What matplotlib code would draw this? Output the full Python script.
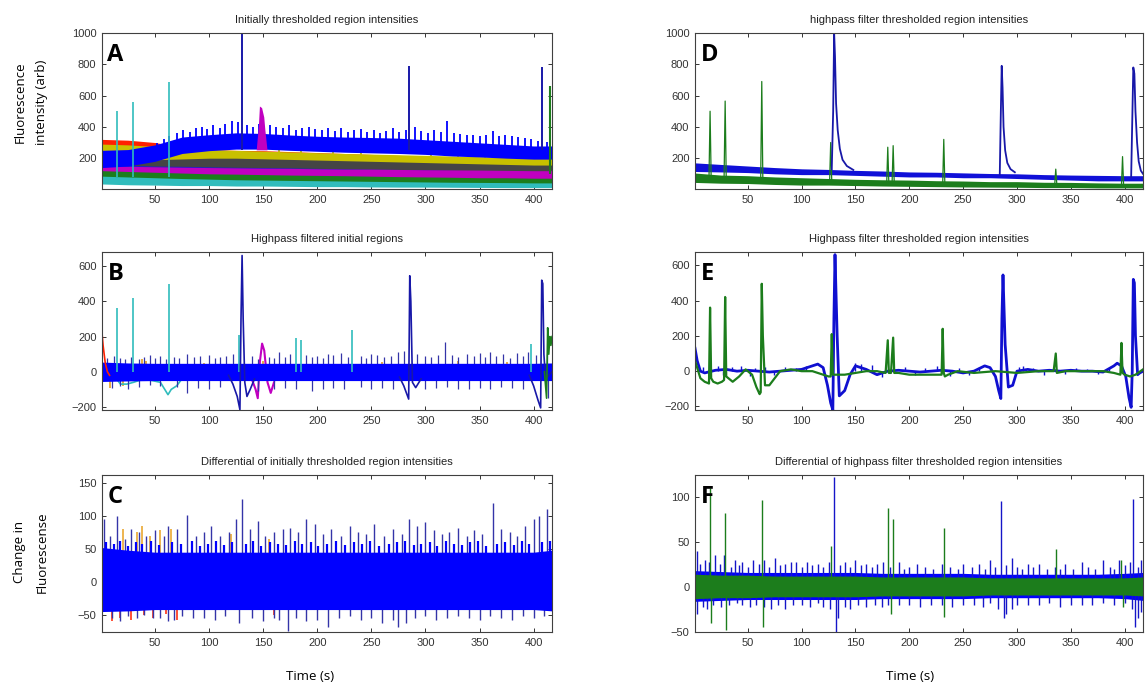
import matplotlib
matplotlib.use("Agg")
import matplotlib.pyplot as plt

W, H = 1147, 691
fig = plt.figure(figsize=(W/100, H/100), dpi=100)

# ---------------- DATA ----------------
knots_t = [1, 25, 50, 75, 100, 125, 150, 175, 200, 225, 250, 275, 300, 325, 350, 375, 400, 417]

# Panel A bands (lower / upper envelope of each region trace)
A_cyan_lo = [35, 30, 28, 25, 25, 22, 22, 20, 18, 18, 16, 15, 15, 14, 13, 12, 12, 12]
A_cyan_hi = [85, 80, 75, 70, 66, 62, 60, 58, 56, 54, 52, 50, 48, 46, 45, 44, 42, 42]
A_green_lo = [55, 55, 50, 48, 45, 42, 40, 38, 35, 35, 32, 30, 30, 28, 25, 25, 22, 22]
A_green_hi = [120, 115, 110, 105, 100, 98, 95, 92, 90, 88, 85, 82, 80, 78, 75, 75, 72, 72]
A_mag_lo = [80, 80, 78, 76, 75, 72, 70, 70, 68, 66, 65, 64, 62, 62, 60, 60, 60, 60]
A_mag_hi = [150, 148, 145, 142, 140, 138, 136, 135, 132, 130, 130, 128, 126, 125, 124, 122, 120, 120]
A_blue2_lo = [85, 85, 82, 80, 80, 78, 76, 75, 72, 70, 70, 68, 66, 64, 62, 60, 60, 60]
A_blue2_hi = [160, 155, 150, 148, 145, 142, 140, 138, 135, 132, 130, 128, 125, 122, 120, 118, 115, 115]
A_gray_lo = [110, 110, 110, 120, 125, 125, 122, 120, 118, 115, 112, 110, 108, 105, 102, 100, 98, 98]
A_gray_hi = [200, 195, 190, 195, 200, 200, 196, 192, 188, 184, 180, 176, 172, 168, 164, 160, 156, 156]
A_yel_lo = [175, 175, 165, 160, 155, 150, 146, 142, 138, 134, 130, 126, 122, 118, 114, 110, 108, 108]
A_yel_hi = [290, 285, 275, 265, 255, 250, 245, 240, 235, 230, 226, 222, 218, 214, 210, 205, 200, 200]
A_red_lo = [220, 220, 205, 185, 175, 170, 165, 160, 150, 145, 140, 135, 130, 125, 120, 115, 110, 110]
A_red_hi = [320, 315, 300, 270, 255, 250, 248, 242, 236, 230, 224, 218, 212, 206, 200, 195, 190, 190]
A_blue_lo = [140, 150, 180, 230, 248, 258, 258, 250, 244, 238, 234, 230, 224, 214, 208, 200, 194, 194]
A_blue_hi = [250, 255, 285, 335, 350, 362, 358, 348, 340, 335, 332, 328, 318, 308, 298, 288, 278, 278]
A_blue_noise_t = [52, 58, 63, 70, 76, 82, 88, 93, 98, 104, 110, 115, 121, 127, 135, 141, 146, 156, 162, 168, 174, 180, 186, 192, 198, 204, 210, 216, 222, 228, 234, 240, 246, 252, 258, 264, 270, 276, 282, 290, 296, 302, 308, 314, 320, 326, 332, 338, 344, 350, 356, 362, 368, 374, 380, 386, 392, 398, 404, 412]
A_blue_noise_y = [300, 320, 340, 360, 380, 370, 390, 400, 385, 410, 395, 420, 440, 430, 410, 400, 420, 415, 400, 390, 410, 380, 395, 400, 385, 380, 390, 375, 395, 370, 380, 385, 365, 380, 360, 375, 390, 370, 380, 400, 375, 360, 380, 370, 440, 360, 355, 350, 345, 340, 350, 375, 340, 345, 340, 335, 330, 320, 310, 305]
A_yel_noise_t = [80, 95, 110, 165, 185, 215, 240, 305, 330, 355, 380, 400]
A_yel_noise_y = [280, 270, 265, 250, 255, 245, 240, 230, 228, 222, 218, 212]
A_cyan_spk_t = [15, 30, 63]
A_cyan_spk_y = [500, 560, 690]
A_navy_spk_t = [130, 285, 408]
A_navy_spk_y = [1000, 790, 780]
A_mag_bump_t = [144, 146, 147, 149, 151, 152, 154]
A_mag_bump_y = [250, 400, 530, 520, 460, 380, 250]
A_green_spk_t = [415]
A_green_spk_y = [660]

# Panel B
B_blue_lo = [-55, -52, -50, -50, -50, -50, -50, -50, -50, -50, -50, -50, -50, -50, -50, -50, -50, -50]
B_blue_hi = [55, 50, 48, 48, 48, 48, 48, 48, 48, 48, 48, 48, 48, 48, 48, 48, 48, 50]
B_start_t = [1, 2, 3, 4, 6, 8]
B_start_y = [220, 150, 100, 50, 0, -20]
B_up_t = [6, 12, 18, 22, 28, 35, 40, 45, 50, 55, 60, 68, 72, 80, 86, 92, 100, 105, 110, 116, 122, 140, 145, 155, 160, 165, 170, 175, 190, 195, 200, 205, 210, 215, 222, 228, 240, 245, 250, 255, 262, 268, 275, 280, 292, 300, 305, 312, 318, 325, 330, 338, 345, 350, 355, 360, 365, 372, 378, 385, 390, 395, 402, 412]
B_up_y = [80, 90, 80, 70, 85, 75, 85, 95, 80, 90, 75, 85, 80, 100, 85, 90, 95, 80, 85, 90, 100, 90, 75, 85, 80, 110, 85, 100, 95, 85, 90, 80, 100, 95, 105, 85, 90, 80, 100, 95, 85, 90, 110, 120, 100, 90, 85, 95, 170, 95, 85, 100, 90, 105, 85, 115, 90, 100, 80, 105, 90, 110, 95, 100]
B_dn_t = [10, 18, 25, 35, 45, 55, 70, 80, 90, 100, 110, 145, 160, 170, 180, 195, 205, 215, 225, 240, 250, 260, 270, 300, 310, 320, 330, 340, 350, 360, 370, 380, 390, 413]
B_dn_y = [-90, -80, -95, -85, -75, -80, -85, -120, -90, -95, -85, -110, -100, -90, -95, -110, -95, -90, -100, -85, -95, -90, -100, -95, -90, -85, -95, -100, -90, -95, -85, -90, -95, -150]
B_warm_t = [8, 20, 38, 42, 95, 150, 260, 330, 375]
B_warm_y = [-90, -80, 70, 60, 50, 60, 55, 60, 55]
B_cyan_spk_t = [15, 30, 63, 128, 180, 185, 232, 398]
B_cyan_spk_y = [360, 420, 500, 210, 190, 180, 240, 160]
B_cyan_dip_t = [12, 18, 24, 30, 40, 55, 60, 62, 65, 70, 75]
B_cyan_dip_y = [-20, -70, -70, -60, -40, -60, -110, -130, -100, -80, -40]
B_navy1_t = [118, 122, 126, 128.5, 129.5, 130.5, 131.5, 133, 135, 138, 142]
B_navy1_y = [-20, -70, -140, -215, 300, 660, 300, -60, -140, -100, -40]
B_navy2_t = [276, 280, 283, 284.5, 285.5, 286.5, 288, 291, 296]
B_navy2_y = [-30, -80, -130, -155, 545, 400, -60, -90, -40]
B_navy3_t = [396, 400, 404, 406.5, 407.5, 408.5, 409.5, 411, 414, 417]
B_navy3_y = [-20, -80, -160, -205, 520, 500, 100, -40, -20, 0]
B_mag_t = [140, 143, 145, 147, 149, 151, 154, 157, 160]
B_mag_y = [-50, -100, -150, 60, 160, 120, -60, -120, -60]
B_green_t = [410, 412, 413, 414, 415, 416, 417]
B_green_y = [0, -150, 250, 100, 200, 150, 200]

# Panel C
C_blue_lo = [-45, -44, -42, -42, -42, -42, -42, -42, -42, -42, -42, -42, -42, -42, -42, -42, -42, -44]
C_blue_hi = [52, 48, 45, 45, 45, 45, 45, 45, 45, 45, 45, 45, 45, 45, 45, 45, 45, 48]
C_up_t = [3, 8, 15, 22, 28, 35, 42, 50, 58, 62, 70, 80, 88, 95, 102, 110, 118, 125, 130, 138, 145, 152, 160, 168, 175, 182, 190, 198, 205, 213, 222, 230, 238, 245, 252, 262, 270, 278, 285, 292, 300, 308, 315, 322, 330, 338, 345, 352, 362, 370, 378, 385, 392, 400, 405, 412]
C_up_y = [95, 70, 100, 65, 80, 75, 70, 78, 70, 85, 80, 102, 70, 75, 85, 70, 75, 95, 125, 80, 92, 70, 75, 80, 82, 75, 95, 88, 72, 80, 70, 85, 75, 72, 88, 70, 80, 72, 95, 85, 90, 78, 72, 75, 82, 70, 78, 72, 120, 80, 75, 70, 85, 95, 100, 110]
C_up2_t = [5, 12, 18, 25, 32, 38, 46, 54, 66, 74, 84, 92, 99, 106, 114, 121, 134, 141, 148, 156, 164, 171, 179, 186, 194, 201, 209, 217, 226, 234, 241, 249, 257, 266, 274, 281, 289, 296, 304, 311, 319, 326, 334, 341, 349, 356, 366, 374, 382, 389, 396, 408, 415]
C_up2_y = [60, 58, 62, 55, 60, 58, 62, 56, 60, 58, 62, 55, 58, 62, 56, 60, 58, 62, 55, 60, 58, 56, 62, 58, 60, 55, 58, 62, 56, 60, 58, 62, 55, 58, 60, 62, 56, 58, 60, 55, 62, 58, 56, 60, 62, 55, 58, 60, 56, 62, 58, 60, 62]
C_dn_t = [10, 18, 25, 33, 40, 48, 55, 62, 68, 75, 85, 95, 105, 115, 128, 140, 150, 160, 165, 173, 180, 190, 200, 210, 220, 230, 240, 250, 260, 270, 275, 282, 290, 300, 310, 320, 330, 340, 350, 360, 370, 380, 390, 400, 410]
C_dn_y = [-55, -60, -52, -55, -50, -55, -55, -60, -58, -52, -55, -55, -58, -52, -62, -55, -60, -55, -58, -75, -55, -60, -58, -68, -55, -52, -58, -55, -62, -58, -68, -62, -55, -52, -58, -55, -52, -55, -58, -52, -55, -58, -52, -55, -52]
C_warm_t = [10, 18, 28, 40, 48, 60, 70, 160]
C_warm_y = [-60, -55, -58, -50, -55, -48, -58, -50]
C_warm_up_t = [20, 33, 38, 45, 55, 65, 120, 155]
C_warm_up_y = [80, 75, 85, 70, 78, 80, 72, 65]

# Panel D
D_blue_lo = [115, 112, 108, 100, 95, 95, 90, 85, 80, 80, 75, 75, 70, 65, 60, 55, 55, 55]
D_blue_hi = [170, 160, 150, 140, 132, 128, 122, 118, 112, 110, 106, 102, 100, 95, 92, 90, 88, 88]
D_green_lo = [45, 40, 38, 32, 28, 28, 25, 22, 20, 18, 16, 15, 14, 12, 12, 10, 10, 10]
D_green_hi = [105, 92, 88, 80, 75, 70, 65, 62, 60, 56, 54, 50, 50, 46, 45, 42, 40, 40]
D_blue_s1_t = [128, 129.3, 130.2, 131, 132, 133.5, 135.5, 138, 142, 148]
D_blue_s1_y = [130, 500, 1000, 850, 550, 380, 260, 190, 150, 125]
D_blue_s2_t = [284, 285, 285.8, 286.6, 287.5, 289, 291, 294, 298]
D_blue_s2_y = [95, 500, 790, 650, 400, 250, 170, 130, 110]
D_blue_s3_t = [406, 407.2, 408, 409, 410, 411.5, 413, 415, 417]
D_blue_s3_y = [80, 500, 780, 740, 500, 300, 180, 120, 100]
D_green_spk_t = [15, 29, 63, 127, 180, 185, 232, 336, 398]
D_green_spk_y = [500, 565, 690, 300, 270, 280, 320, 130, 210]
D_green_base = [75, 70, 60, 50, 40, 40, 35, 30, 25]

# Panel E
E_blue_t = [1, 3, 6, 10, 20, 30, 40, 50, 60, 70, 80, 90, 100, 110, 115, 120, 124, 127, 129, 130, 131, 133, 135, 140, 145, 150, 160, 170, 180, 190, 200, 210, 220, 230, 240, 250, 260, 270, 275, 280, 283, 285, 286, 287, 289, 292, 296, 300, 310, 320, 330, 340, 350, 360, 370, 380, 390, 393, 397, 401, 404, 406, 407, 408, 409, 410, 412, 414, 417]
E_blue_y = [130, 60, 0, -10, 5, 10, 0, 5, 0, -5, 0, 5, 10, 30, 40, 20, -80, -180, -220, 300, 660, 200, -140, -110, -20, 30, 10, -20, 0, 5, 0, -5, 0, 5, 0, -10, 0, 30, 20, -30, -110, -155, 300, 545, 150, -90, -80, 0, 10, 0, 5, 0, 5, 0, 0, -5, 30, 45, 30, -30, -150, -205, 0, 520, 500, 200, -20, -10, 0]
E_green_t = [1, 3, 6, 10, 14, 15, 16, 18, 22, 26, 28, 29, 30, 32, 36, 42, 48, 54, 58, 61, 62, 63, 64, 66, 70, 75, 80, 90, 100, 110, 120, 125, 127, 128, 129, 132, 140, 150, 160, 170, 178, 180, 181, 183, 185, 186, 190, 200, 210, 220, 230, 231, 232, 233, 236, 245, 260, 280, 300, 320, 334, 336, 337, 345, 360, 380, 390, 396, 397, 398, 400, 405, 410, 417]
E_green_y = [60, 20, -40, -60, -70, 360, -40, -60, -70, -60, -50, 420, -30, -40, -60, -30, 10, -20, -90, -130, -120, 495, 200, -80, -80, -40, 0, 10, 0, 0, -20, -30, -30, 210, -20, -20, -20, -10, 0, 0, -10, 175, -10, -10, 190, -10, -10, -20, -20, -20, -20, 240, -10, -30, -20, 0, -10, 0, -10, 0, 0, 100, -10, 0, 0, 0, -10, -20, 160, -10, -20, -30, -20, 10]
E_bnoise_t = [8, 14, 22, 27, 35, 44, 52, 57, 66, 74, 85, 95, 104, 150, 155, 165, 175, 196, 205, 215, 226, 238, 246, 255, 265, 302, 306, 315, 325, 335, 345, 355, 365, 375, 385]
E_bnoise_y = [25, -25, 30, -20, 25, 30, -25, 20, 25, -20, 25, 20, 30, 45, 40, 35, -35, 25, -20, 20, 30, -25, 20, -20, 25, 25, 30, 20, -20, 15, -15, 20, 15, -15, 20]

# Panel F
F_blue_lo = [-16, -15, -14, -14, -14, -14, -14, -13, -13, -13, -13, -12, -12, -12, -12, -12, -13, -15]
F_blue_hi = [18, 17, 16, 16, 16, 16, 16, 15, 15, 15, 15, 14, 14, 14, 14, 14, 15, 16]
F_green_lo = [-13, -12, -12, -11, -11, -11, -11, -10, -10, -10, -10, -9, -9, -9, -9, -9, -9, -10]
F_green_hi = [14, 13, 13, 12, 12, 12, 12, 11, 11, 11, 11, 10, 10, 10, 10, 10, 10, 11]
F_bup_t = [3, 6, 10, 14, 20, 24, 28, 34, 38, 42, 45, 50, 55, 60, 65, 70, 75, 80, 85, 90, 95, 100, 105, 110, 115, 120, 125, 130, 136, 140, 145, 150, 155, 160, 165, 170, 176, 182, 190, 195, 200, 207, 215, 222, 230, 238, 245, 250, 258, 265, 270, 275, 280, 285, 290, 295, 300, 305, 310, 315, 320, 328, 335, 340, 345, 352, 360, 366, 372, 380, 386, 390, 395, 400, 405, 408, 412, 415]
F_bup_y = [40, 25, 30, 28, 35, 25, 35, 22, 30, 24, 28, 22, 30, 25, 30, 22, 32, 24, 25, 28, 28, 22, 28, 24, 25, 22, 28, 122, 24, 28, 22, 30, 24, 25, 22, 25, 28, 22, 28, 20, 22, 25, 22, 20, 25, 22, 20, 25, 22, 25, 20, 30, 22, 95, 24, 32, 22, 20, 25, 22, 25, 20, 22, 20, 25, 20, 28, 22, 20, 30, 22, 20, 30, 24, 28, 97, 22, 30]
F_bdn_t = [3, 8, 12, 18, 25, 33, 40, 45, 52, 58, 65, 72, 78, 85, 92, 100, 108, 115, 120, 126, 132, 134, 140, 145, 152, 160, 168, 175, 180, 190, 200, 210, 220, 230, 240, 250, 260, 268, 275, 282, 288, 290, 295, 300, 310, 320, 330, 340, 350, 360, 370, 380, 390, 400, 407, 410, 412, 415]
F_bdn_y = [-30, -22, -25, -20, -22, -20, -18, -20, -22, -20, -22, -24, -20, -25, -20, -20, -22, -18, -22, -25, -50, -35, -22, -25, -20, -22, -20, -22, -20, -20, -20, -22, -20, -20, -22, -20, -20, -22, -18, -25, -35, -30, -25, -20, -20, -20, -18, -22, -20, -20, -20, -18, -20, -18, -25, -45, -35, -28]
F_gup_t = [15, 29, 63, 127, 180, 185, 232, 336, 397]
F_gup_y = [110, 82, 96, 45, 87, 75, 65, 42, 30]
F_gdn_t = [16, 30, 64, 183, 232, 398]
F_gdn_y = [-40, -48, -45, -30, -33, -22]

x_ticks = [50, 100, 150, 200, 250, 300, 350, 400]

# ---------------- STYLE ----------------
BLUE = '#0000ff'
NAVY = '#1818a8'
SLATE = '#3434a8'
GREEN = '#1c7d1c'
CYAN = '#30bcbc'
MAG = '#c000c0'
YEL = '#c8c000'
GRAY = '#454545'
RED = '#ff2000'
ORANGE = '#e8a020'


def make_ax(l, t, r, b):
    ax = fig.add_axes([l/W, 1 - b/H, (r-l)/W, (b-t)/H])
    ax.set_xlim(1, 417)
    ax.set_xticks(x_ticks)
    ax.tick_params(direction='in', top=True, right=True, length=3, width=0.7,
                   colors='#333333', labelsize=8, pad=4)
    for s in ax.spines.values():
        s.set_color('#404040')
        s.set_linewidth(0.8)
        s.set_zorder(20)
    return ax


def finish(ax):
    for lab in ax.get_xticklabels() + ax.get_yticklabels():
        lab.set_fontfamily('Liberation Sans')


def title(ax, s):
    ax.set_title(s, fontfamily='Liberation Sans', fontsize=8, color='#222222', pad=7)


def letter(ax, s):
    ax.text(0.012, 0.86, s, transform=ax.transAxes, fontfamily='Open Sans',
            fontweight='bold', fontsize=17, va='center', ha='left', color='black', zorder=30)


def band(ax, lo, hi, c, z=2):
    ax.fill_between(knots_t, lo, hi, color=c, lw=0, zorder=z)


def spikes(ax, t, y, base, c, lw=0.9, z=5):
    ax.vlines(t, base, y, colors=c, lw=lw, zorder=z)


# ---------------- PANEL A ----------------
axA = make_ax(102, 33, 552, 189)
axA.set_ylim(3, 1000)
axA.set_yticks([200, 400, 600, 800, 1000])
band(axA, A_red_lo, A_red_hi, RED, z=2)
band(axA, A_yel_lo, A_yel_hi, YEL, z=2.1)
spikes(axA, A_yel_noise_t, A_yel_noise_y, 150, YEL, lw=1.3, z=2.15)
band(axA, A_gray_lo, A_gray_hi, GRAY, z=2.2)
band(axA, A_blue2_lo, A_blue2_hi, '#2020c8', z=2.3)
band(axA, A_mag_lo, A_mag_hi, MAG, z=2.4)
band(axA, A_green_lo, A_green_hi, GREEN, z=2.5)
band(axA, A_cyan_lo, A_cyan_hi, CYAN, z=2.6)
spikes(axA, A_blue_noise_t, A_blue_noise_y, 260, BLUE, lw=1.3, z=2.8)
band(axA, A_blue_lo, A_blue_hi, BLUE, z=3)
spikes(axA, A_cyan_spk_t, A_cyan_spk_y, 80, CYAN, lw=1.2)
spikes(axA, A_navy_spk_t, A_navy_spk_y, 250, NAVY, lw=1.4)
axA.fill(A_mag_bump_t, A_mag_bump_y, color=MAG, lw=0, zorder=5)
spikes(axA, A_green_spk_t, A_green_spk_y, 100, GREEN, lw=1.5)
title(axA, 'Initially thresholded region intensities')
letter(axA, 'A')
finish(axA)

# ---------------- PANEL B ----------------
axB = make_ax(102, 252, 552, 410)
axB.set_ylim(-217, 680)
axB.set_yticks([-200, 0, 200, 400, 600])
spikes(axB, B_warm_t, B_warm_y, 0, ORANGE, lw=1.2, z=2)
axB.plot(B_cyan_dip_t, B_cyan_dip_y, color=CYAN, lw=1.2, zorder=2)
axB.plot(B_mag_t, B_mag_y, color=MAG, lw=1.5, zorder=3)
spikes(axB, B_up_t, B_up_y, 0, SLATE, lw=0.9, z=3)
spikes(axB, B_dn_t, B_dn_y, 0, SLATE, lw=0.9, z=3)
band(axB, B_blue_lo, B_blue_hi, BLUE, z=4)
axB.plot(B_start_t, B_start_y, color=RED, lw=1.2, zorder=4)
spikes(axB, B_cyan_spk_t, B_cyan_spk_y, 0, CYAN, lw=1.2)
axB.plot(B_navy1_t, B_navy1_y, color=NAVY, lw=1.2, zorder=6)
axB.plot(B_navy2_t, B_navy2_y, color=NAVY, lw=1.2, zorder=6)
axB.plot(B_navy3_t, B_navy3_y, color=NAVY, lw=1.2, zorder=6)
axB.plot(B_green_t, B_green_y, color=GREEN, lw=1.2, zorder=6)
title(axB, 'Highpass filtered initial regions')
letter(axB, 'B')
finish(axB)

# ---------------- PANEL C ----------------
axC = make_ax(102, 475, 552, 632)
axC.set_ylim(-76, 162)
axC.set_yticks([-50, 0, 50, 100, 150])
spikes(axC, C_warm_t, C_warm_y, 0, RED, lw=1.1, z=2)
spikes(axC, C_warm_up_t, C_warm_up_y, 0, ORANGE, lw=1.1, z=2)
spikes(axC, C_up_t, C_up_y, 0, SLATE, lw=1.0, z=3)
spikes(axC, C_up2_t, C_up2_y, 0, BLUE, lw=1.6, z=3)
spikes(axC, C_dn_t, C_dn_y, 0, SLATE, lw=1.0, z=3)
band(axC, C_blue_lo, C_blue_hi, BLUE, z=4)
title(axC, 'Differential of initially thresholded region intensities')
letter(axC, 'C')
finish(axC)

# ---------------- PANEL D ----------------
axD = make_ax(695, 33, 1143, 189)
axD.set_ylim(3, 1000)
axD.set_yticks([200, 400, 600, 800, 1000])
band(axD, D_green_lo, D_green_hi, GREEN)
band(axD, D_blue_lo, D_blue_hi, '#1010d8', z=3)
for tt, yy, bb in zip(D_green_spk_t, D_green_spk_y, D_green_base):
    axD.plot([tt - 1.0, tt, tt + 1.0], [bb, yy, bb], color=GREEN, lw=0.9, zorder=4)
axD.plot(D_blue_s1_t, D_blue_s1_y, color=NAVY, lw=1.3, zorder=5)
axD.plot(D_blue_s2_t, D_blue_s2_y, color=NAVY, lw=1.3, zorder=5)
axD.plot(D_blue_s3_t, D_blue_s3_y, color=NAVY, lw=1.3, zorder=5)
title(axD, 'highpass filter thresholded region intensities')
letter(axD, 'D')
finish(axD)

# ---------------- PANEL E ----------------
axE = make_ax(695, 252, 1143, 410)
axE.set_ylim(-220, 675)
axE.set_yticks([-200, 0, 200, 400, 600])
spikes(axE, E_bnoise_t, E_bnoise_y, 0, '#1010d0', lw=1.0, z=2)
axE.plot(E_blue_t, E_blue_y, color='#1010d0', lw=2.0, zorder=3)
axE.plot(E_green_t, E_green_y, color=GREEN, lw=1.6, zorder=4)
title(axE, 'Highpass filter thresholded region intensities')
letter(axE, 'E')
finish(axE)

# ---------------- PANEL F ----------------
axF = make_ax(695, 475, 1143, 632)
axF.set_ylim(-50, 124)
axF.set_yticks([-50, 0, 50, 100])
band(axF, F_blue_lo, F_blue_hi, BLUE, z=2)
spikes(axF, F_bup_t, F_bup_y, 0, '#1515c8', lw=1.0, z=3)
spikes(axF, F_bdn_t, F_bdn_y, 0, '#1515c8', lw=1.0, z=3)
band(axF, F_green_lo, F_green_hi, GREEN, z=4)
spikes(axF, F_gup_t, F_gup_y, 0, GREEN, lw=1.0, z=5)
spikes(axF, F_gdn_t, F_gdn_y, 0, GREEN, lw=1.0, z=5)
title(axF, 'Differential of highpass filter thresholded region intensities')
letter(axF, 'F')
finish(axF)

# ---------------- LABELS ----------------
lab = dict(fontfamily='Open Sans', fontsize=9.5, color='black', rotation=90,
           ha='center', va='center')
fig.text(20/W, 1 - 102/H, 'Fluorescence', **lab)
fig.text(42/W, 1 - 102/H, 'intensity (arb)', **lab)
fig.text(20/W, 1 - 552/H, 'Change in', **lab)
fig.text(42/W, 1 - 552/H, 'Fluorescense', **lab)
fig.text(310/W, 1 - 677/H, 'Time (s)', fontfamily='Open Sans', fontsize=9.5, ha='center', va='center')
fig.text(910/W, 1 - 677/H, 'Time (s)', fontfamily='Open Sans', fontsize=9.5, ha='center', va='center')

fig.savefig('out.png', dpi=100)
